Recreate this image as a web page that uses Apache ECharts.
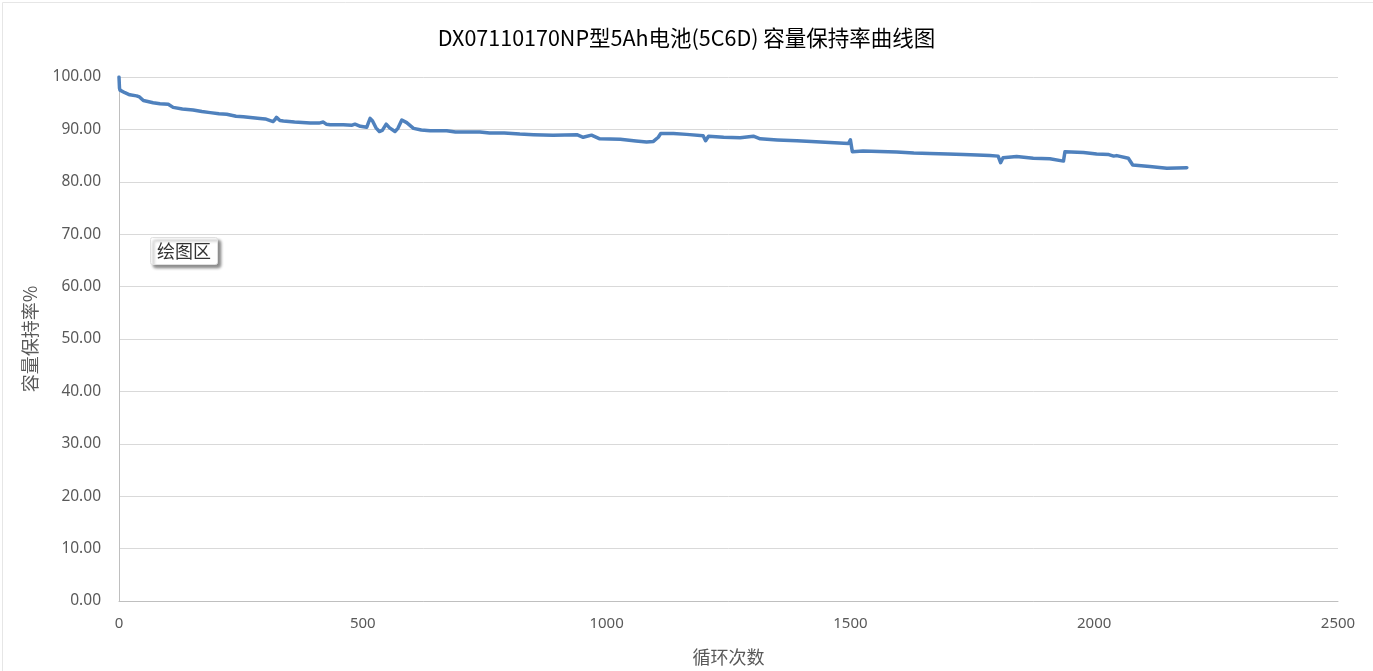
<!DOCTYPE html>
<html>
<head>
<meta charset="utf-8">
<script src="https://cdn.jsdelivr.net/npm/echarts@6/dist/echarts.min.js"></script>
<style>
html,body{margin:0;padding:0;background:#fff;}
#c{width:1373px;height:671px;}
</style>
</head>
<body>
<div id="c"></div>
<script>
const titleText = 'DX07110170NP型5Ah电池(5C6D) 容量保持率曲线图';
const xAxisName = '循环次数';
const yAxisName = '容量保持率%';
const cycles = [0,1,2,12,22,36,42,50,70,84,101,111,130,152,170,187,205,221,240,255,289,300,316,320,323,330,337,360,392,410,419,425,433,460,478,484,495,508,512,515,520,527,534,540,548,555,566,572,580,590,604,620,638,672,690,740,760,790,822,850,890,939,952,969,986,1028,1060,1082,1096,1106,1111,1137,1164,1198,1203,1209,1240,1274,1301,1315,1350,1390,1420,1458,1496,1500,1504,1526,1560,1595,1630,1663,1700,1732,1760,1786,1803,1808,1813,1817,1841,1875,1909,1937,1940,1978,2005,2030,2040,2046,2070,2079,2114,2149,2190];
const retention = [100,97.9,97.5,97.0,96.6,96.4,96.2,95.5,95.1,94.9,94.8,94.2,93.9,93.7,93.4,93.2,93.0,92.9,92.5,92.4,92.1,92.0,91.5,91.9,92.3,91.7,91.6,91.4,91.2,91.2,91.4,91.0,90.9,90.9,90.8,91.0,90.6,90.4,91.4,92.1,91.6,90.3,89.6,89.8,91.0,90.3,89.6,90.2,91.8,91.3,90.2,89.9,89.75,89.75,89.5,89.5,89.3,89.3,89.1,89.0,88.9,89.0,88.5,88.9,88.2,88.1,87.8,87.6,87.7,88.5,89.2,89.2,89.05,88.8,87.85,88.7,88.5,88.4,88.7,88.2,88.0,87.85,87.7,87.5,87.3,88.0,85.75,85.9,85.8,85.7,85.5,85.4,85.3,85.2,85.1,85.0,84.9,83.65,84.6,84.8,84.85,84.5,84.4,83.95,85.75,85.6,85.3,85.2,84.9,85.0,84.5,83.2,82.9,82.6,82.7];
const yTicks = {min:0,max:100,interval:10};
const xTicks = {min:0,max:2500,interval:500};
const tipText = '绘图区';

const FONT = "'Segoe UI','Noto Sans','Noto Sans CJK SC',sans-serif";
const chart = echarts.init(document.getElementById('c'), null, {renderer:'canvas'});
chart.setOption({
  animation:false,
  backgroundColor:'#fff',
  title:{text:titleText,left:'center',top:22,textStyle:{fontFamily:"'Noto Sans CJK SC','Noto Sans',sans-serif",fontSize:21.5,fontWeight:'normal',color:'#000'}},
  grid:{left:119,right:35,top:77,bottom:70,containLabel:false},
  xAxis:{type:'value',min:xTicks.min,max:xTicks.max,interval:xTicks.interval,
    name:xAxisName,nameLocation:'middle',nameGap:47,
    nameTextStyle:{fontFamily:"'Noto Sans CJK SC',sans-serif",fontSize:18,color:'#595959'},
    axisLine:{show:true,lineStyle:{color:'#bfbfbf',width:1}},axisTick:{show:false},
    axisLabel:{color:'#595959',fontSize:15,margin:15,fontFamily:FONT,formatter:v=>String(v)},
    splitLine:{show:false}},
  yAxis:{type:'value',min:yTicks.min,max:yTicks.max,interval:yTicks.interval,
    name:yAxisName,nameLocation:'middle',nameGap:80,nameRotate:90,
    nameTextStyle:{fontFamily:"'Noto Sans CJK SC',sans-serif",fontSize:18,color:'#595959'},
    axisLine:{show:true,lineStyle:{color:'#bfbfbf',width:1}},axisTick:{show:false},
    axisLabel:{color:'#595959',fontSize:15.5,margin:18,fontFamily:FONT,formatter:v=>v.toFixed(2)},
    splitLine:{show:true,lineStyle:{color:'#d9d9d9',width:1}}},
  series:[{type:'line',data:cycles.map((c,i)=>[c,retention[i]]),showSymbol:false,symbol:'none',
    lineStyle:{color:'#4F81BD',width:3.5,join:'round',cap:'round'},itemStyle:{color:'#4F81BD'}}],
  graphic:[
    {type:'rect',left:0,top:0,shape:{x:0.5,y:0.5,width:1371,height:669},style:{fill:null,stroke:'#e6e6e6',lineWidth:1},silent:true,z:-1},
    {type:'group',left:150,top:237,children:[
      {type:'rect',shape:{x:0,y:0,width:67,height:27,r:2},style:{fill:'#fff',stroke:'#e0e0e0',lineWidth:1,shadowBlur:3,shadowOffsetX:3,shadowOffsetY:3,shadowColor:'rgba(0,0,0,0.45)'}},
      {type:'text',x:33.5,y:13.5,style:{text:tipText,fill:'#333',font:"18px 'Noto Sans CJK SC',sans-serif",align:'center',verticalAlign:'middle'}}
    ]}
  ]
});
</script>
</body>
</html>
